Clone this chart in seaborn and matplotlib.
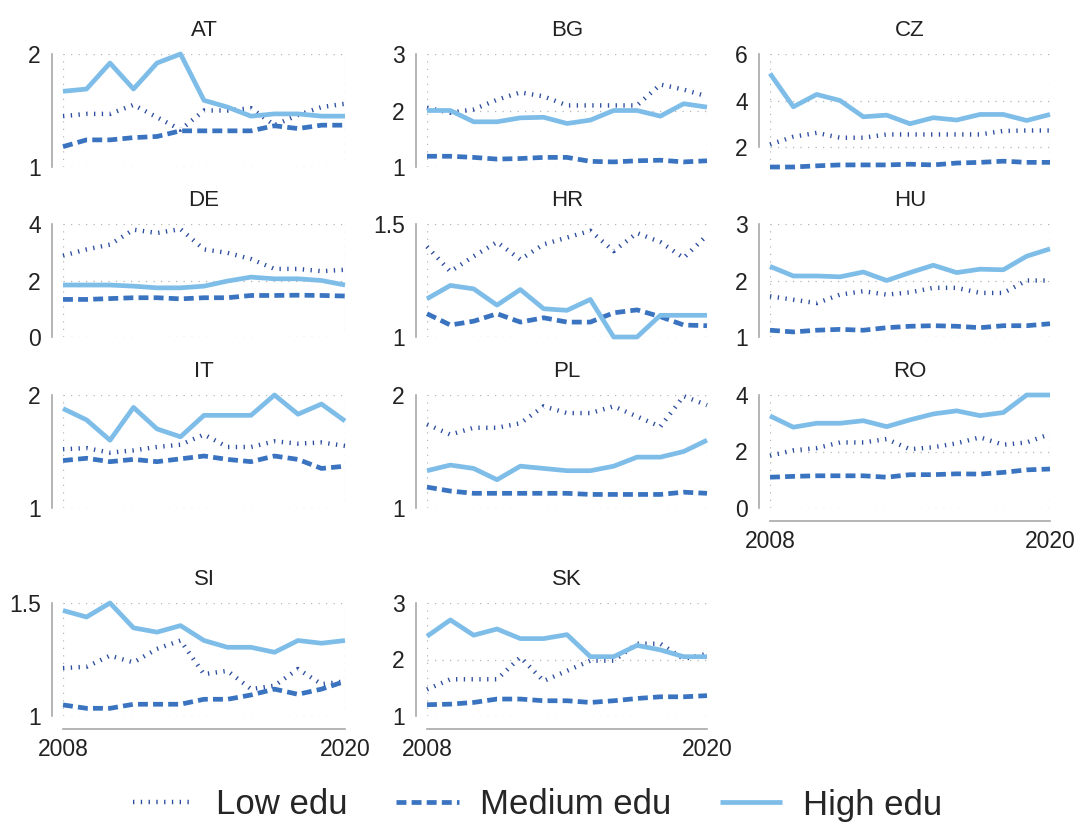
import seaborn as sns
import matplotlib.pyplot as plt
from matplotlib.lines import Line2D
from matplotlib.ticker import FuncFormatter

# --- data ---
YEARS = list(range(2008, 2021))
COUNTRIES = ["AT", "BG", "CZ", "DE", "HR", "HU", "IT", "PL", "RO", "SI", "SK"]

LOW_EDU = {
    "AT": [1.45, 1.47, 1.47, 1.55, 1.44, 1.33, 1.50, 1.50, 1.52, 1.37, 1.46, 1.53, 1.56],
    "BG": [2.05, 1.96, 2.02, 2.19, 2.32, 2.25, 2.09, 2.09, 2.09, 2.09, 2.46, 2.37, 2.25],
    "CZ": [2.11, 2.44, 2.61, 2.40, 2.40, 2.54, 2.54, 2.54, 2.54, 2.54, 2.69, 2.71, 2.71],
    "DE": [2.88, 3.10, 3.27, 3.80, 3.68, 3.82, 3.10, 2.98, 2.76, 2.41, 2.41, 2.33, 2.38],
    "HR": [1.40, 1.29, 1.357, 1.42, 1.343, 1.41, 1.44, 1.47, 1.38, 1.46, 1.42, 1.35, 1.45],
    "HU": [1.72, 1.66, 1.60, 1.75, 1.81, 1.75, 1.79, 1.87, 1.87, 1.78, 1.78, 2.00, 2.00],
    "IT": [1.52, 1.53, 1.49, 1.51, 1.54, 1.56, 1.65, 1.54, 1.54, 1.59, 1.57, 1.58, 1.55],
    "PL": [1.74, 1.65, 1.71, 1.71, 1.75, 1.90, 1.84, 1.84, 1.90, 1.81, 1.72, 1.99, 1.91],
    "RO": [1.85, 2.04, 2.12, 2.32, 2.32, 2.44, 2.08, 2.15, 2.29, 2.50, 2.24, 2.32, 2.62],
    "SI": [1.212, 1.218, 1.267, 1.237, 1.297, 1.334, 1.185, 1.20, 1.119, 1.134, 1.208, 1.141, 1.153],
    "SK": [1.47, 1.65, 1.65, 1.65, 2.04, 1.62, 1.80, 1.98, 1.98, 2.28, 2.28, 2.01, 2.10],
}

MEDIUM_EDU = {
    "AT": [1.18, 1.24, 1.24, 1.26, 1.27, 1.32, 1.32, 1.32, 1.32, 1.365, 1.34, 1.37, 1.37],
    "BG": [1.19, 1.19, 1.17, 1.14, 1.15, 1.17, 1.17, 1.10, 1.09, 1.11, 1.12, 1.09, 1.11],
    "CZ": [1.14, 1.14, 1.19, 1.23, 1.23, 1.23, 1.26, 1.23, 1.31, 1.34, 1.39, 1.34, 1.34],
    "DE": [1.33, 1.33, 1.36, 1.39, 1.39, 1.35, 1.39, 1.39, 1.47, 1.47, 1.48, 1.47, 1.45],
    "HR": [1.103, 1.053, 1.07, 1.103, 1.066, 1.085, 1.066, 1.066, 1.107, 1.12, 1.09, 1.053, 1.05],
    "HU": [1.12, 1.09, 1.12, 1.135, 1.12, 1.165, 1.19, 1.20, 1.19, 1.165, 1.20, 1.20, 1.235],
    "IT": [1.42, 1.44, 1.41, 1.43, 1.41, 1.435, 1.46, 1.43, 1.41, 1.46, 1.43, 1.35, 1.37],
    "PL": [1.185, 1.15, 1.13, 1.13, 1.13, 1.13, 1.13, 1.12, 1.12, 1.12, 1.12, 1.14, 1.13],
    "RO": [1.09, 1.12, 1.14, 1.14, 1.14, 1.09, 1.18, 1.18, 1.21, 1.20, 1.26, 1.35, 1.38],
    "SI": [1.049, 1.034, 1.034, 1.052, 1.052, 1.052, 1.074, 1.074, 1.093, 1.119, 1.096, 1.119, 1.153],
    "SK": [1.20, 1.21, 1.24, 1.30, 1.30, 1.27, 1.27, 1.24, 1.27, 1.31, 1.34, 1.34, 1.36],
}

HIGH_EDU = {
    "AT": [1.67, 1.69, 1.92, 1.69, 1.92, 2.00, 1.59, 1.53, 1.45, 1.47, 1.47, 1.45, 1.45],
    "BG": [2.00, 2.00, 1.80, 1.80, 1.87, 1.88, 1.77, 1.83, 2.00, 2.00, 1.90, 2.12, 2.06],
    "CZ": [5.16, 3.73, 4.26, 4.00, 3.30, 3.37, 3.00, 3.26, 3.16, 3.40, 3.40, 3.14, 3.40],
    "DE": [1.84, 1.84, 1.84, 1.80, 1.74, 1.74, 1.80, 1.98, 2.12, 2.06, 2.06, 2.00, 1.84],
    "HR": [1.169, 1.228, 1.213, 1.141, 1.21, 1.125, 1.118, 1.166, 1.0, 1.0, 1.096, 1.096, 1.096],
    "HU": [2.25, 2.08, 2.08, 2.065, 2.15, 2.00, 2.14, 2.27, 2.14, 2.20, 2.19, 2.43, 2.56],
    "IT": [1.88, 1.78, 1.60, 1.89, 1.70, 1.63, 1.82, 1.82, 1.82, 2.00, 1.83, 1.92, 1.77],
    "PL": [1.33, 1.38, 1.35, 1.25, 1.37, 1.35, 1.33, 1.33, 1.37, 1.45, 1.45, 1.50, 1.60],
    "RO": [3.26, 2.86, 3.00, 3.00, 3.09, 2.88, 3.12, 3.33, 3.44, 3.27, 3.38, 4.00, 4.00],
    "SI": [1.467, 1.438, 1.50, 1.39, 1.371, 1.40, 1.334, 1.304, 1.304, 1.282, 1.334, 1.322, 1.334],
    "SK": [2.41, 2.70, 2.43, 2.54, 2.37, 2.37, 2.44, 2.05, 2.05, 2.25, 2.17, 2.05, 2.05],
}

Y_TICKS = {
    "AT": [1, 2], "BG": [1, 2, 3], "CZ": [2, 4, 6], "DE": [0, 2, 4],
    "HR": [1, 1.5], "HU": [1, 2, 3], "IT": [1, 2], "PL": [1, 2],
    "RO": [0, 2, 4], "SI": [1, 1.5], "SK": [1, 2, 3],
}
X_TICKS = [2008, 2020]
LEGEND_LABELS = ["Low edu", "Medium edu", "High edu"]

# --- styling ---
LOW_STYLE = dict(color="#2d4d9e", lw=3.2, linestyle=(0, (0.3, 1.45)), dash_capstyle="butt")
MED_STYLE = dict(color="#3a73bf", lw=3.4, linestyle=(0, (2.1, 1.1)), dash_capstyle="butt")
HIGH_STYLE = dict(color="#7fbde9", lw=3.4, linestyle="-", solid_capstyle="butt")
AXIS_GREY = "#a8a8a8"
TEXT = "#222222"

sns.set_theme(style="white")
plt.rcParams["font.family"] = ["Liberation Sans", "DejaVu Sans"]

W, H = 1075, 825
COL_LEFT = [63, 427, 770]
COL_WIDTH = [282, 280, 280]
ROW_TOP = [54, 224, 395, 603]
ROW_HEIGHT = 113
BOTTOM_PANELS = {"RO", "SI", "SK"}

fig = plt.figure(figsize=(W / 100, H / 100), dpi=100)

for i, c in enumerate(COUNTRIES):
    r, k = divmod(i, 3)
    ax = fig.add_axes([COL_LEFT[k] / W, 1 - (ROW_TOP[r] + ROW_HEIGHT) / H,
                       COL_WIDTH[k] / W, ROW_HEIGHT / H])

    sns.lineplot(x=YEARS, y=LOW_EDU[c], ax=ax, clip_on=False, **LOW_STYLE)
    sns.lineplot(x=YEARS, y=MEDIUM_EDU[c], ax=ax, clip_on=False, **MED_STYLE)
    sns.lineplot(x=YEARS, y=HIGH_EDU[c], ax=ax, clip_on=False, **HIGH_STYLE)

    ticks = Y_TICKS[c]
    all_vals = LOW_EDU[c] + MEDIUM_EDU[c] + HIGH_EDU[c]
    ax.set_ylim(min(ticks[0], min(all_vals)), max(ticks[-1], max(all_vals)))
    ax.set_xlim(X_TICKS[0], X_TICKS[-1])
    ax.set_yticks(ticks)
    ax.set_xticks(X_TICKS)
    ax.yaxis.set_major_formatter(FuncFormatter(lambda v, p: f"{v:g}"))
    ax.set_xlabel("")
    ax.set_ylabel("")

    ax.grid(True, linestyle=(0, (1, 5)), color="#b5b5b5", lw=0.9)
    ax.set_axisbelow(True)

    for s in ["top", "right"]:
        ax.spines[s].set_visible(False)
    ax.spines["left"].set_color(AXIS_GREY)
    ax.spines["left"].set_linewidth(1.2)
    ax.spines["left"].set_position(("outward", 8))
    ax.spines["left"].set_bounds(ticks[0], ticks[-1])
    ax.tick_params(axis="y", length=5, width=1.2, color=AXIS_GREY,
                   labelcolor=TEXT, labelsize=16.5, pad=3)

    if c in BOTTOM_PANELS:
        ax.spines["bottom"].set_color(AXIS_GREY)
        ax.spines["bottom"].set_linewidth(1.2)
        ax.spines["bottom"].set_position(("outward", 9))
        ax.spines["bottom"].set_bounds(X_TICKS[0], X_TICKS[-1])
        ax.tick_params(axis="x", length=5, width=1.2, color=AXIS_GREY,
                       labelcolor=TEXT, labelsize=16.5, pad=2)
    else:
        ax.spines["bottom"].set_visible(False)
        ax.tick_params(axis="x", bottom=False, labelbottom=False)

    ax.set_title(c, fontsize=16, pad=13, color=TEXT)

handles = [Line2D([], [], **LOW_STYLE), Line2D([], [], **MED_STYLE), Line2D([], [], **HIGH_STYLE)]
fig.legend(handles, LEGEND_LABELS, loc="center", bbox_to_anchor=(0.5, 1 - 805 / H),
           ncol=3, frameon=False, fontsize=25, handlelength=1.8,
           handletextpad=0.6, columnspacing=1.4)

fig.savefig("out.png", dpi=100)
